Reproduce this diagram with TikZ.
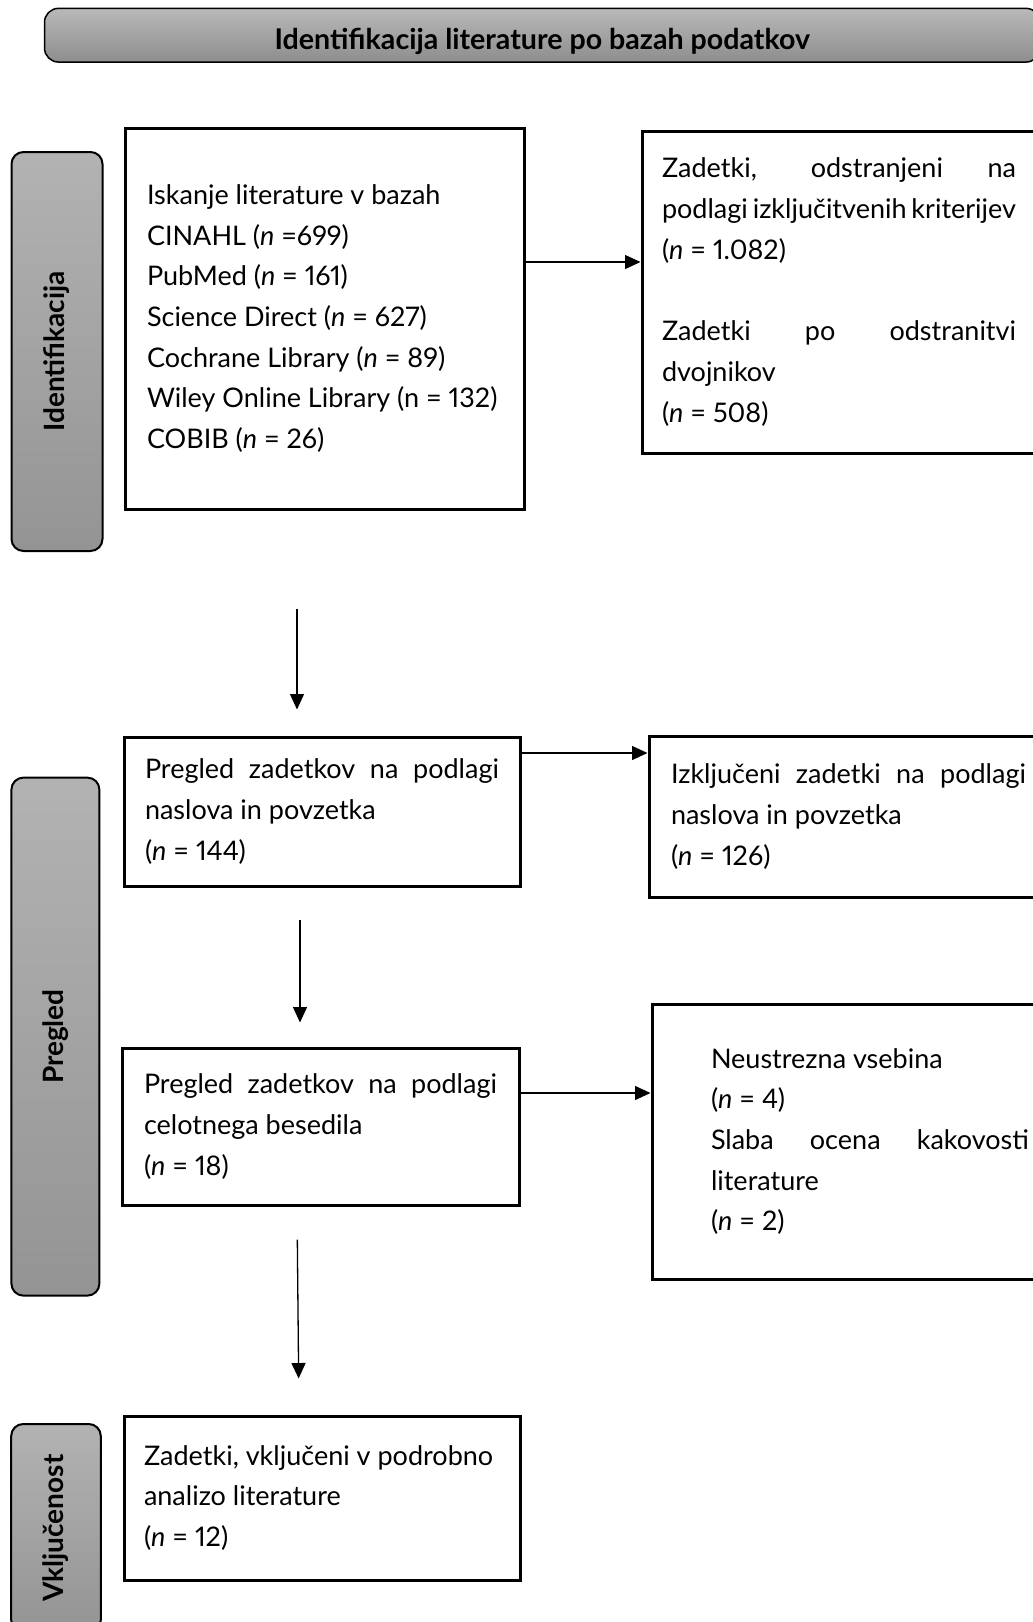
\documentclass[tikz,border=0pt]{standalone}
\usepackage{fontspec}
\setmainfont{Lato}[Numbers=Proportional]
\usepackage{tikz}
\usetikzlibrary{shapes,arrows.meta,positioning}

\hyphenpenalty=10000
\exhyphenpenalty=10000
\hbadness=10000
\hfuzz=20pt
\newcommand{\bodyfont}{\fontsize{13.5}{20.35}\selectfont}
\newcommand{\nn}{\textit{n}}

\tikzset{
  box/.style={rectangle, draw, line width=1.5pt, font=\bodyfont, inner ysep=0pt, align=justify},
  sidebar/.style={rectangle, draw, rounded corners=6pt, line width=1pt, rotate=90,
    top color=gray!60, bottom color=gray!95!black!80, font=\bfseries\fontsize{14}{16}\selectfont},
}

\begin{document}
\begin{tikzpicture}[x=0.5pt, y=-0.5pt, >={Triangle[length=7.75pt,width=7pt]}]
    \useasboundingbox (0,0) rectangle (1033,1622);

    \node [rectangle, draw, rounded corners=7pt, line width=0.75pt, top color=gray!55, bottom color=gray!95!black!85,
           minimum width=497.75pt, minimum height=26.85pt, text height=14.2pt, text depth=0pt, inner ysep=0pt,
           font=\bfseries\fontsize{14.3}{16}\selectfont] (title) at (542.25,35.2) {Identifikacija literature po bazah podatkov};

    % stranske oznake
    \node [sidebar, minimum width=199.5pt, minimum height=45.5pt] (lblid) at (57,351.5) {Identifikacija};
    \node [sidebar, minimum width=259pt, minimum height=44pt] (lblpre) at (55.4,1036.6) {Pregled};
    \node [sidebar, minimum width=104pt, minimum height=44.8pt] (lblvkl) at (56,1528) {Vključenost};

    % identifikacija
    \node [box, minimum width=199.5pt, minimum height=190.5pt, inner xsep=11pt, text width=177.5pt] (search) at (324.5,318.5)
        {Iskanje literature v bazah\\CINAHL (\nn{} =699)\\PubMed (\nn{} = 161)\\Science Direct (\nn{} = 627)\\Cochrane Library (\nn{} = 89)\\\mbox{Wiley Online Library (n = 132)}\\COBIB (\nn{} = 26)};
    \node [box, minimum width=197pt, minimum height=161pt, inner xsep=10pt, text width=177pt] (removed) at (839,292)
        {Zadetki, odstranjeni na\linebreak podlagi izključitvenih kriterijev\\(\nn{} = 1.082)\\[20.35pt]Zadetki po odstranitvi\linebreak dvojnikov\\(\nn{} = 508)};

    % pregled
    \node [box, minimum width=198pt, minimum height=74.5pt, inner xsep=10.5pt, text width=177pt] (screen) at (322,811.5)
        {Pregled zadetkov na podlagi\linebreak naslova in povzetka\\(\nn{} = 144)};
    \node [box, minimum width=199.5pt, minimum height=80.5pt, inner xsep=11pt, text width=177.5pt] (excl1) at (848.5,816.5)
        {Izključeni zadetki na podlagi\linebreak naslova in povzetka\\(\nn{} = 126)};
    \node [box, minimum width=198.5pt, minimum height=78.5pt, inner xsep=11pt, text width=176.5pt] (fulltext) at (320.5,1126.5)
        {Pregled zadetkov na podlagi\linebreak celotnega besedila\\(\nn{} = 18)};
    \node [box, minimum width=218pt, minimum height=137.5pt, inner xsep=29.5pt, text width=159pt] (excl2) at (870,1141.5)
        {Neustrezna vsebina\\(\nn{} = 4)\\Slaba ocena kakovosti\linebreak literature\\(\nn{} = 2)};

    % vkljucenost
    \node [box, minimum width=198pt, minimum height=82pt, inner xsep=10pt, text width=178pt] (included) at (322,1498)
        {Zadetki, vključeni v podrobno\\analizo literature\\(\nn{} = 12)};

    % povezave
    \coordinate (s1) at ([yshift=28.25pt]search.east);
    \coordinate (s2) at ([yshift=29.25pt]screen.east);
    \coordinate (s3) at ([yshift=16.75pt]fulltext.east);
    \draw [->, line width=0.65pt] (s1) -- (s1 -| removed.west);
    \draw [->, line width=0.65pt] (s2) -- (s2 -| excl1.west);
    \draw [->, line width=0.65pt] (s3) -- (s3 -| excl2.west);

    \draw [->, line width=0.65pt, shorten <=49pt, shorten >=13pt] ([xshift=-13.75pt]search.south) -- ([xshift=-12.5pt]screen.north);
    \draw [->, line width=0.65pt, shorten <=16pt, shorten >=12pt] ([xshift=-11pt]screen.south) -- ([xshift=-10.25pt]fulltext.north);
    \draw [->, line width=0.65pt, shorten <=16.5pt, shorten >=18pt] ([xshift=-11.75pt]fulltext.south) -- ([xshift=-11.5pt]included.north);
\end{tikzpicture}
\end{document}
